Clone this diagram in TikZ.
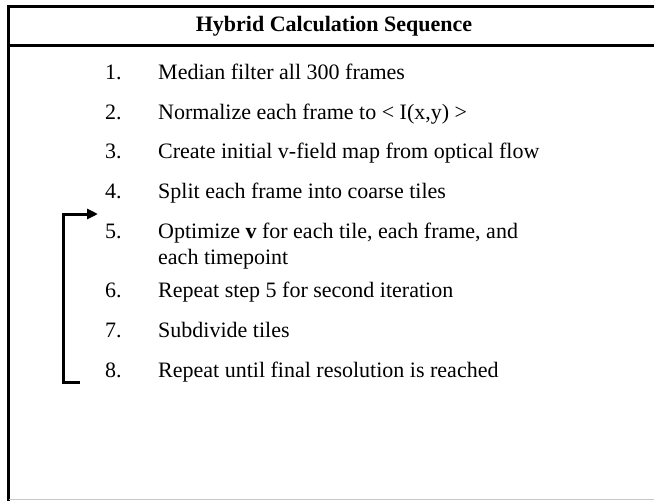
\documentclass[tikz,border=0pt]{standalone}
\usepackage{fontspec}
\setmainfont{Liberation Serif}
\usetikzlibrary{arrows.meta}
\begin{document}
\begin{tikzpicture}[x=1pt,y=-1pt,
  frame/.style={line width=3pt},
  body/.style={font=\fontsize{22}{26}\selectfont, inner sep=0pt, anchor=base west},
  num/.style={body},
  itemtext/.style={body, align=left},
  loopline/.style={line width=3pt, line join=miter, -{Triangle[length=11pt,width=10pt]}}]
\useasboundingbox (0,0) rectangle (654,501);
\clip (0,0) rectangle (654,501);
\fill[white] (0,0) rectangle (654,501);
% frame
\draw[frame] (8.5,501) -- (8.5,6.5) -- (660,6.5);
\draw[frame] (8.5,45) -- (660,45);
\draw[line width=1.5pt, black!22] (8.5,499.5) -- (660,499.5);
% title
\node[font=\fontsize{22}{26}\selectfont\bfseries, inner sep=0pt] (title) at (334,26) {Hybrid Calculation Sequence};
% items
\node[num] (n1) at (105,79) {1.};
\node[itemtext] (t1) at (158,79) {Median filter all 300 frames};
\node[num] (n2) at (105,119) {2.};
\node[itemtext] (t2) at (158,119) {Normalize each frame to < I(x,y) >};
\node[num] (n3) at (105,158) {3.};
\node[itemtext] (t3) at (158,158) {Create initial v-field map from optical flow};
\node[num] (n4) at (105,198) {4.};
\node[itemtext] (t4) at (158,198) {Split each frame into coarse tiles};
\node[num] (n5) at (105,238) {5.};
\node[itemtext] (t5) at (158,264) {Optimize \textbf{v} for each tile, each frame, and\\each timepoint};
\node[num] (n6) at (105,297) {6.};
\node[itemtext] (t6) at (158,297) {Repeat step 5 for second iteration};
\node[num] (n7) at (105,337) {7.};
\node[itemtext] (t7) at (158,337) {Subdivide tiles};
\node[num] (n8) at (105,377) {8.};
\node[itemtext] (t8) at (158,377) {Repeat until final resolution is reached};
% loop bracket
\coordinate (loopEnd) at (80,382);
\coordinate (loopCornerB) at (63,382);
\coordinate (loopCornerT) at (63,214);
\coordinate (loopTip) at (98,214);
\draw[loopline] (loopEnd) -- (loopCornerB) -- (loopCornerT) -- (loopTip);
\end{tikzpicture}
\end{document}
